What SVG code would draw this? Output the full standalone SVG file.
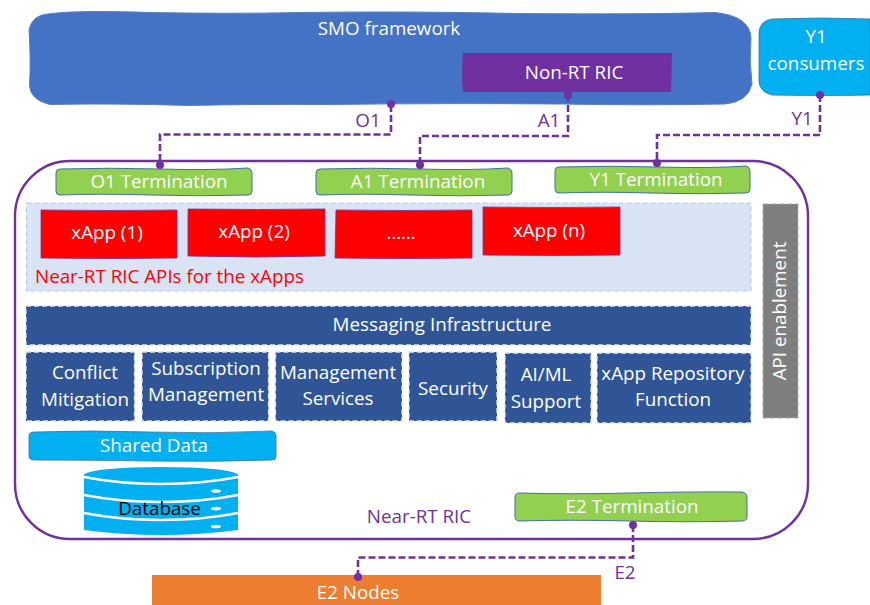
<svg xmlns="http://www.w3.org/2000/svg" width="870" height="605" viewBox="0 0 870 605">
<style>
text{font-family:"Open Sans","Noto Sans","Liberation Sans",sans-serif;font-size:18.8px;text-anchor:middle;fill:#fff}
.p{fill:#7030a0}
.r{fill:#f00;text-anchor:start}
.k{fill:#000}
.cloud{fill:#4472c4;stroke:#5b7fc0;stroke-width:1}
.term{fill:#92d050;stroke:#41719c;stroke-width:1}
.app{fill:#f00;stroke:#7030a0;stroke-width:.8}
.svc{fill:#2f5597;stroke:#dae3f3;stroke-width:1.3;stroke-dasharray:5 3}
.cyan{fill:#00b0f0;stroke:#41719c;stroke-width:.8}
.conn{fill:none;stroke:#7030a0;stroke-width:2.6;stroke-dasharray:7 3}
.dot{fill:#7030a0}
</style>
<g id="smo-framework">
<path class="cloud" d="M48 14Q75 10 150 12.500Q230 14 300 12.500Q400 11 520 13.500Q640 14.500 715 12.500Q750 16 751 38Q749 60 752 84Q748 102 725 104Q640 105.500 560 104Q450 103 330 104.500Q250 104 190 105.500Q110 103 50 104.500Q30 100 29.500 85Q31 60 29 30Q32 15 48 14Z"/>
<text x="389" y="35">SMO framework</text>
</g>
<g id="non-rt-ric">
<path d="M463 53L672 53L671 92L463 92Q461 72 463 53Z" fill="#7030a0"/>
<text x="574" y="79">Non-RT RIC</text>
</g>
<g id="y1-consumers">
<path class="cyan" d="M772 19Q820 17 870 19L870 95Q830 96 772 95Q760 92 759 82L759 32Q760 21 772 19Z" stroke="#41a0d0"/>
<text x="816" y="43">Y1</text>
<text x="816" y="69.500">consumers</text>
</g>
<g id="near-rt-ric">
<rect x="15" y="161" width="793" height="378" rx="55" ry="55" fill="none" stroke="#7030a0" stroke-width="2.400"/>
<text class="p" x="419" y="523">Near-RT RIC</text>
</g>
<g id="o1-termination">
<path class="term" d="M60 169Q110 167.500 160 169T248 168Q252 169 252 173L252 191Q252 195 248 195Q200 196.500 150 195T60 195Q56 195 56 191L56 173Q56 169 60 169Z"/>
<text x="159" y="188">O1 Termination</text>
</g>
<g id="a1-termination">
<path class="term" d="M320 169Q370 167.500 420 169T508 168Q512 169 512 173L512 191Q512 195 508 195Q460 196.500 410 195T320 195Q316 195 316 191L316 173Q316 169 320 169Z"/>
<text x="418" y="188">A1 Termination</text>
</g>
<g id="y1-termination">
<path class="term" d="M559 167Q610 165.500 660 167T746 166Q750 167 750 171L750 189Q750 193 746 193Q700 194.500 650 193T559 193Q555 193 555 189L555 171Q555 167 559 167Z"/>
<text x="656" y="186">Y1 Termination</text>
</g>
<g id="xapps-api">
<rect x="26.500" y="203" width="724.500" height="88" fill="#dae3f3" stroke="#b4c7e7" stroke-width="1" stroke-dasharray="5 3"/>
<text class="r" x="35" y="283">Near-RT RIC APIs for the xApps</text>
</g>
<g id="xapp-1">
<path class="app" d="M41 210Q110 211 177 210L177 258Q110 259 41 258Z"/>
<text x="107" y="239">xApp (1)</text>
</g>
<g id="xapp-2">
<path class="app" d="M188 209Q256 210 325 209L325 256Q256 258 188 256Z"/>
<text x="254" y="238">xApp (2)</text>
</g>
<g id="xapp-dots">
<path class="app" d="M336 210Q404 211 472 210L472 258Q404 259 335 258Z"/>
<text x="401" y="239">……</text>
</g>
<g id="xapp-n">
<path class="app" d="M483 207Q552 208 620 207L620 255Q552 256 483 255Z"/>
<text x="549" y="237">xApp (n)</text>
</g>
<g id="api-enablement">
<rect x="763" y="204" width="35" height="214" fill="#7f7f7f" stroke="#a6a6a6" stroke-width="1" stroke-dasharray="5 3"/>
<text transform="translate(786 311) rotate(-90)">API enablement</text>
</g>
<g id="messaging-infrastructure">
<rect class="svc" x="26" y="306" width="725" height="39"/>
<text x="442" y="331">Messaging Infrastructure</text>
</g>
<g id="conflict-mitigation">
<rect class="svc" x="26" y="352" width="108.500" height="69"/>
<text x="85" y="379">Conflict</text>
<text x="85" y="405.500">Mitigation</text>
</g>
<g id="subscription-management">
<rect class="svc" x="142" y="352" width="126.500" height="69"/>
<text x="206" y="374.500">Subscription</text>
<text x="206" y="400.500">Management</text>
</g>
<g id="management-services">
<rect class="svc" x="275.500" y="352" width="126.500" height="69"/>
<text x="338" y="378.500">Management</text>
<text x="338" y="405">Services</text>
</g>
<g id="security">
<rect class="svc" x="409" y="352" width="88" height="69"/>
<text x="453" y="395">Security</text>
</g>
<g id="ai-ml-support">
<rect class="svc" x="505" y="353" width="86" height="70"/>
<text x="546" y="381">AI/ML</text>
<text x="546" y="408">Support</text>
</g>
<g id="xapp-repository-function">
<rect class="svc" x="597" y="353" width="154" height="70"/>
<text x="673" y="380">xApp Repository</text>
<text x="673" y="406">Function</text>
</g>
<g id="shared-data">
<path class="cyan" d="M34 432Q90 430 150 432T272 431Q276 432 276 436L276 456Q276 460 272 460Q210 462 150 461T34 460Q29 460 29 456L29 436Q29 432 34 432Z"/>
<text x="154" y="452">Shared Data</text>
</g>
<g id="database">
<path d="M84 475A77 8 0 0 1 238 475L238 530Q200 535 161 535T84 530Z" fill="#00b0f0"/>
<path d="M84 477Q120 484 161 484T238 477M84 495Q120 502 161 502T238 495M84 513Q120 520 161 520T238 513" fill="none" stroke="#fff" stroke-width="2.500"/>
<ellipse cx="216" cy="491" rx="5" ry="1.800" fill="#fff"/>
<ellipse cx="216" cy="508.500" rx="5" ry="1.800" fill="#fff"/>
<ellipse cx="216" cy="526.500" rx="5" ry="1.800" fill="#fff"/>
<text class="k" x="159.500" y="515">Database</text>
</g>
<g id="e2-termination">
<path class="term" d="M520 493Q570 494.500 630 493T742 492Q747 493 747 497L747 517Q747 521 742 521Q690 522.500 630 521T520 521Q515 521 515 517L515 497Q515 493 520 493Z"/>
<text x="632" y="513">E2 Termination</text>
</g>
<g id="e2-nodes">
<rect x="152" y="575" width="449" height="30" fill="#ed7d31"/>
<text x="358" y="599.400">E2 Nodes</text>
</g>
<g id="connectors">
<path class="conn" d="M391 105V134.500H160V165"/>
<path class="conn" d="M568 95V136H420V165"/>
<path class="conn" d="M820 95V135H657V163"/>
<path class="conn" d="M633 525V557.500H358V577"/>
<circle class="dot" cx="391" cy="104" r="4"/>
<circle class="dot" cx="160" cy="165" r="4"/>
<circle class="dot" cx="568" cy="95" r="4"/>
<circle class="dot" cx="420" cy="165" r="4"/>
<circle class="dot" cx="820" cy="95" r="4"/>
<circle class="dot" cx="657" cy="163" r="4"/>
<circle class="dot" cx="633" cy="525" r="4"/>
<circle class="dot" cx="358" cy="577" r="4"/>
<text class="p" x="368" y="127">O1</text>
<text class="p" x="549" y="127">A1</text>
<text class="p" x="802" y="125">Y1</text>
<text class="p" x="625" y="579">E2</text>
</g>
</svg>
